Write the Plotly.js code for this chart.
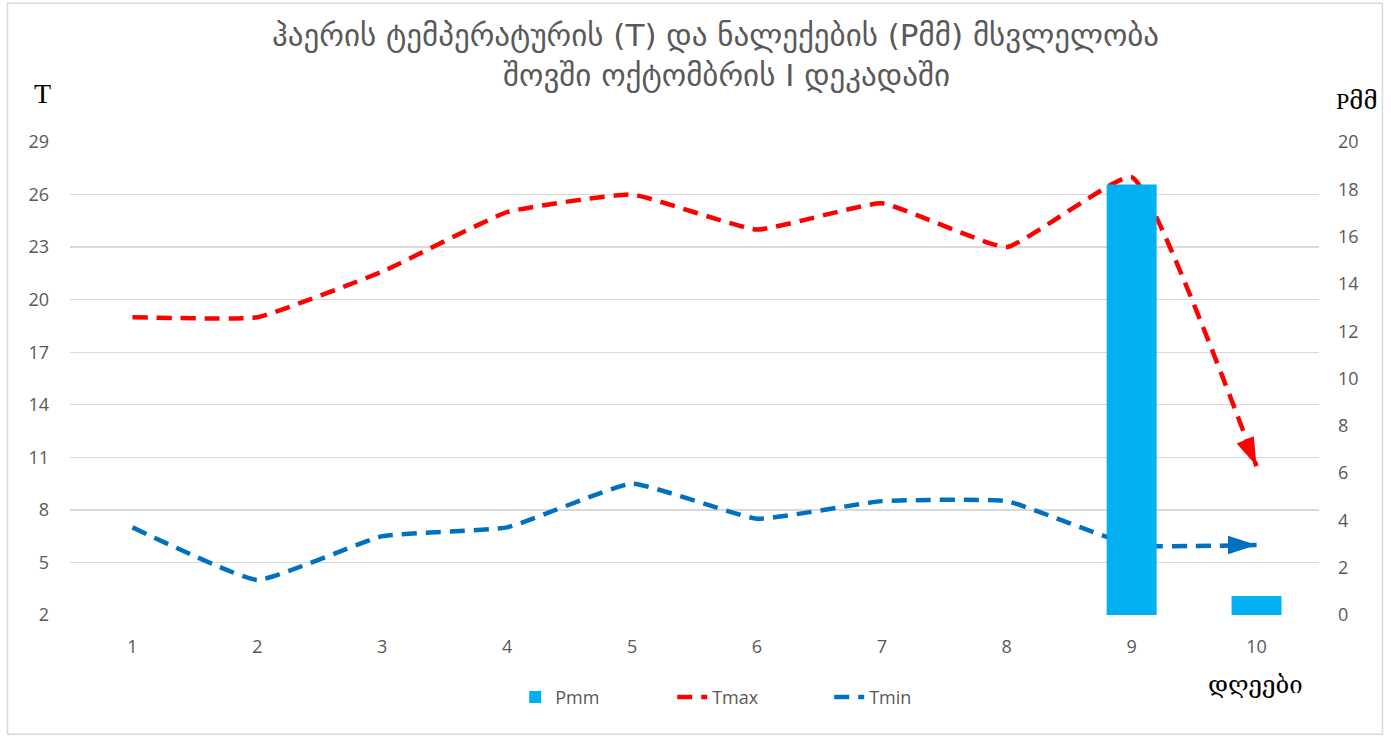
<!DOCTYPE html>
<html>
<head>
<meta charset="utf-8">
<script src="https://cdn.plot.ly/plotly-3.0.1.min.js"></script>
<style>
html,body{margin:0;padding:0;background:#fff;}
#chart{width:1391px;height:736px;}
</style>
</head>
<body>
<div id="chart"></div>
<script>
// ---- data ----
const days = [1, 2, 3, 4, 5, 6, 7, 8, 9, 10];
const pmm  = [0, 0, 0, 0, 0, 0, 0, 0, 18.2, 0.8];
const tmax = [19, 19, 21.6, 25, 26, 24, 25.5, 23, 27, 10.5];
const tmin = [7, 4, 6.5, 7, 9.5, 7.5, 8.5, 8.5, 6, 6];
const leftTicks = [2, 5, 8, 11, 14, 17, 20, 23, 26, 29];
const rightTicks = [0, 2, 4, 6, 8, 10, 12, 14, 16, 18, 20];
const titleLine1 = 'ჰაერის ტემპერატურის (T) და ნალექების (Pმმ) მსვლელობა';
const titleLine2 = 'შოვში ოქტომბრის I დეკადაში';

const arrowSizes = days.map((d, i) => i === days.length - 1 ? 30 : 0);
const tickFont = {family: 'Open Sans, Liberation Sans, sans-serif', size: 18, color: '#595959'};
const titleFont = {family: 'DejaVu Sans, sans-serif', size: 31, color: '#595959'};

const traces = [
  {
    type: 'bar', name: 'Pmm', x: days, y: pmm, yaxis: 'y2',
    width: 0.4, marker: {color: '#00B0F0', line: {width: 0}}
  },
  {
    type: 'scatter', mode: 'lines+markers', name: 'Tmax', x: days, y: tmax, yaxis: 'y',
    line: {color: '#FF0000', width: 4.5, dash: '15px,9px', shape: 'spline', smoothing: 0.35},
    marker: {symbol: 'arrow', angleref: 'previous', size: arrowSizes, color: '#FF0000', opacity: 1, line: {width: 0}}
  },
  {
    type: 'scatter', mode: 'lines+markers', name: 'Tmin', x: days, y: tmin, yaxis: 'y',
    line: {color: '#0070C0', width: 4.5, dash: '15px,9px', shape: 'spline', smoothing: 0.35},
    marker: {symbol: 'arrow', angleref: 'previous', size: arrowSizes, color: '#0070C0', opacity: 1, line: {width: 0}}
  }
];

const layout = {
  width: 1391, height: 736,
  margin: {l: 69.5, r: 71.5, t: 141.7, b: 121.3, pad: 0},
  paper_bgcolor: '#ffffff', plot_bgcolor: '#ffffff',
  showlegend: true,
  legend: {
    orientation: 'h', x: 0.545, xanchor: 'center', y: -0.135, yanchor: 'top',
    font: {family: 'Open Sans, Liberation Sans, sans-serif', size: 18, color: '#595959'},
    itemwidth: 30, entrywidth: 112, entrywidthmode: 'pixels', traceorder: 'normal'
  },
  xaxis: {
    type: 'linear', range: [0.5, 10.5], tickvals: days, ticktext: days.map(String),
    showgrid: false, zeroline: false, showline: false, ticks: '',
    tickfont: tickFont, ticklabelstandoff: 19, fixedrange: true
  },
  yaxis: {
    range: [2, 29], tickvals: leftTicks, showgrid: true, gridcolor: '#D9D9D9', gridwidth: 1.3,
    zeroline: false, showline: false, ticks: '', tickfont: tickFont, ticklabelstandoff: 20
  },
  yaxis2: {
    range: [0, 20], tickvals: rightTicks, overlaying: 'y', side: 'right', showgrid: false,
    zeroline: false, showline: false, ticks: '', tickfont: tickFont, ticklabelstandoff: 18
  },
  annotations: [
    {text: titleLine1, xref: 'paper', yref: 'paper', x: 0.517, y: 1.2256, showarrow: false,
     xanchor: 'center', yanchor: 'middle', font: titleFont},
    {text: titleLine2, xref: 'paper', yref: 'paper', x: 0.526, y: 1.1408, showarrow: false,
     xanchor: 'center', yanchor: 'middle', font: titleFont},
    {text: 'T', xref: 'paper', yref: 'paper', x: -0.022, y: 1.103, showarrow: false,
     xanchor: 'center', yanchor: 'middle', font: {family: 'Liberation Serif, DejaVu Serif, serif', size: 28, color: '#000'}},
    {text: 'Pმმ', xref: 'paper', yref: 'paper', x: 1.03, y: 1.086, showarrow: false,
     xanchor: 'center', yanchor: 'middle', font: {family: 'Liberation Serif, DejaVu Serif, serif', size: 24, color: '#000'}},
    {text: 'დღეები', xref: 'paper', yref: 'paper', x: 0.9492, y: -0.1486, showarrow: false,
     xanchor: 'center', yanchor: 'middle', font: {family: 'DejaVu Serif, DejaVu Sans, serif', size: 24, color: '#000'}}
  ],
  shapes: [
    {type: 'rect', xref: 'paper', yref: 'paper', x0: -0.05, x1: 1.0508, y0: -0.252, y1: 1.2932,
     line: {color: '#D9D9D9', width: 1.5}, fillcolor: 'rgba(0,0,0,0)', layer: 'below'}
  ]
};

Plotly.newPlot('chart', traces, layout, {displayModeBar: false, staticPlot: true});
</script>
</body>
</html>
